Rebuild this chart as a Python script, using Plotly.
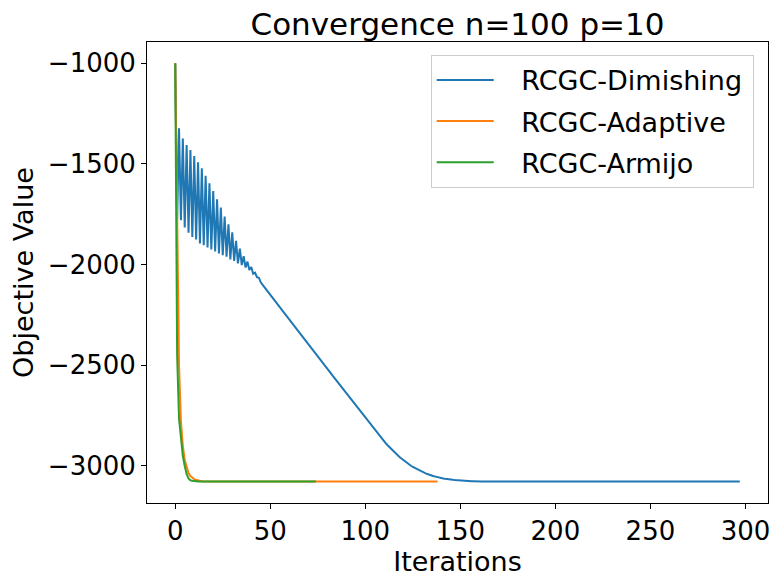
import plotly.graph_objects as go

# objective values per iteration
dimishing = [
    -1000, -1775, -1323, -1779, -1373, -1815, -1406, -1842, -1431, -1862,
    -1460, -1875, -1492, -1895, -1521, -1903, -1558, -1915, -1596, -1925,
    -1634, -1935, -1675, -1944, -1716, -1953, -1761, -1961, -1799, -1974,
    -1840, -1981, -1882, -1994, -1920, -2002, -1958, -2014, -1985, -2027,
    -2012, -2045, -2040, -2062, -2065, -2088, -2100, -2113, -2125, -2137,
    -2149, -2162, -2174, -2186, -2198, -2211, -2223, -2235, -2247, -2260,
    -2272, -2284, -2296, -2309, -2321, -2333, -2345, -2358, -2370, -2382,
    -2394, -2407, -2419, -2431, -2443, -2456, -2468, -2480, -2492, -2505,
    -2517, -2529, -2541, -2554, -2566, -2578, -2590, -2603, -2615, -2627,
    -2639, -2652, -2664, -2676, -2688, -2701, -2713, -2725, -2737, -2750,
    -2762, -2774, -2786, -2799, -2811, -2823, -2835, -2847, -2858, -2869,
    -2880, -2890, -2900, -2910, -2920, -2929, -2938, -2947, -2955, -2963,
    -2971, -2979, -2986, -2993, -2999, -3005, -3010, -3016, -3021, -3025,
    -3030, -3034, -3038, -3041, -3045, -3048, -3051, -3053, -3056, -3058,
    -3060, -3062, -3064, -3066, -3067, -3068, -3069, -3070, -3071, -3072,
    -3073, -3074, -3074, -3075, -3075, -3076, -3076, -3076, -3077, -3077,
    -3077, -3077, -3077, -3077, -3077, -3077, -3077, -3077, -3077, -3077,
    -3077, -3077, -3077, -3077, -3077, -3077, -3077, -3077, -3077, -3077,
    -3077, -3077, -3077, -3077, -3077, -3077, -3077, -3077, -3077, -3077,
    -3077, -3077, -3077, -3077, -3077, -3077, -3077, -3077, -3077, -3077,
    -3077, -3077, -3077, -3077, -3077, -3077, -3077, -3077, -3077, -3077,
    -3077, -3077, -3077, -3077, -3077, -3077, -3077, -3077, -3077, -3077,
    -3077, -3077, -3077, -3077, -3077, -3077, -3077, -3077, -3077, -3077,
    -3077, -3077, -3077, -3077, -3077, -3077, -3077, -3077, -3077, -3077,
    -3077, -3077, -3077, -3077, -3077, -3077, -3077, -3077, -3077, -3077,
    -3077, -3077, -3077, -3077, -3077, -3077, -3077, -3077, -3077, -3077,
    -3077, -3077, -3077, -3077, -3077, -3077, -3077, -3077, -3077, -3077,
    -3077, -3077, -3077, -3077, -3077, -3077, -3077, -3077, -3077, -3077,
    -3077, -3077, -3077, -3077, -3077, -3077, -3077, -3077, -3077, -3077,
    -3077, -3077, -3077, -3077, -3077, -3077, -3077, -3077,
]

adaptive = [
    -1000, -1900, -2500, -2780, -2900, -2970, -3010, -3035, -3050, -3060,
    -3066, -3070, -3073, -3075, -3076, -3077, -3077, -3077, -3077, -3077,
    -3077, -3077, -3077, -3077, -3077, -3077, -3077, -3077, -3077, -3077,
    -3077, -3077, -3077, -3077, -3077, -3077, -3077, -3077, -3077, -3077,
    -3077, -3077, -3077, -3077, -3077, -3077, -3077, -3077, -3077, -3077,
    -3077, -3077, -3077, -3077, -3077, -3077, -3077, -3077, -3077, -3077,
    -3077, -3077, -3077, -3077, -3077, -3077, -3077, -3077, -3077, -3077,
    -3077, -3077, -3077, -3077, -3077, -3077, -3077, -3077, -3077, -3077,
    -3077, -3077, -3077, -3077, -3077, -3077, -3077, -3077, -3077, -3077,
    -3077, -3077, -3077, -3077, -3077, -3077, -3077, -3077, -3077, -3077,
    -3077, -3077, -3077, -3077, -3077, -3077, -3077, -3077, -3077, -3077,
    -3077, -3077, -3077, -3077, -3077, -3077, -3077, -3077, -3077, -3077,
    -3077, -3077, -3077, -3077, -3077, -3077, -3077, -3077, -3077, -3077,
    -3077, -3077, -3077, -3077, -3077, -3077, -3077, -3077, -3077,
]

armijo = [
    -1000, -2450, -2765, -2880, -2950, -3000, -3040, -3062, -3071, -3074,
    -3076, -3077, -3077, -3077, -3077, -3077, -3077, -3077, -3077, -3077,
    -3077, -3077, -3077, -3077, -3077, -3077, -3077, -3077, -3077, -3077,
    -3077, -3077, -3077, -3077, -3077, -3077, -3077, -3077, -3077, -3077,
    -3077, -3077, -3077, -3077, -3077, -3077, -3077, -3077, -3077, -3077,
    -3077, -3077, -3077, -3077, -3077, -3077, -3077, -3077, -3077, -3077,
    -3077, -3077, -3077, -3077, -3077, -3077, -3077, -3077, -3077, -3077,
    -3077, -3077, -3077, -3077, -3077,
]

names = ["RCGC-Dimishing", "RCGC-Adaptive", "RCGC-Armijo"]
colors = ["#1f77b4", "#ff7f0e", "#2ca02c"]

x_ticks = [0, 50, 100, 150, 200, 250, 300]
y_ticks = [-3000, -2500, -2000, -1500, -1000]
y_labels = ["\u22123000", "\u22122500", "\u22122000", "\u22121500", "\u22121000"]

font = "DejaVu Sans"
fsize = 26

fig = go.Figure()
for i, series in enumerate([dimishing, adaptive, armijo]):
    fig.add_trace(go.Scatter(
        x=list(range(len(series))), y=series, mode="lines",
        # leading spaces push the label away from the line sample
        name="\u00a0\u00a0\u2009" + names[i] + "\u2009", legendgroup=names[i],
        line=dict(color=colors[i], width=2),
    ))

axis_style = dict(
    showline=True, mirror=True, linecolor="black", linewidth=1,
    ticks="outside", ticklen=5, tickwidth=1, tickcolor="black",
    showgrid=False, zeroline=False, automargin=False,
    tickfont=dict(family=font, size=fsize, color="black"),
)

# the page puts the plot 8px in from the top-left corner
fig.update_layout(
    width=772, height=576,
    margin=dict(l=139, r=12, t=34, b=81),
    paper_bgcolor="white", plot_bgcolor="white",
    font=dict(family=font, size=fsize, color="black"),
    title=dict(text="Convergence n=100 p=10", x=0.5, xref="paper",
               y=1 - 16 / 576, yref="container", yanchor="middle",
               font=dict(family=font, size=31, color="black")),
    legend=dict(x=0.977, y=0.972, xanchor="right", yanchor="top",
                bgcolor="white", bordercolor="#cccccc", borderwidth=1,
                font=dict(family=font, size=27, color="black"),
                itemwidth=57, tracegroupgap=3, traceorder="grouped"),
)
fig.update_xaxes(range=[-14.85, 311.85], tickvals=x_ticks,
                 title=dict(text="Iterations", standoff=4,
                            font=dict(family=font, size=27)),
                 **axis_style)
fig.update_yaxes(range=[-3184, -894], tickvals=y_ticks, ticktext=y_labels,
                 title=dict(text="Objective Value", standoff=12,
                            font=dict(family=font, size=27)),
                 **axis_style)

fig.write_html("out.html")
